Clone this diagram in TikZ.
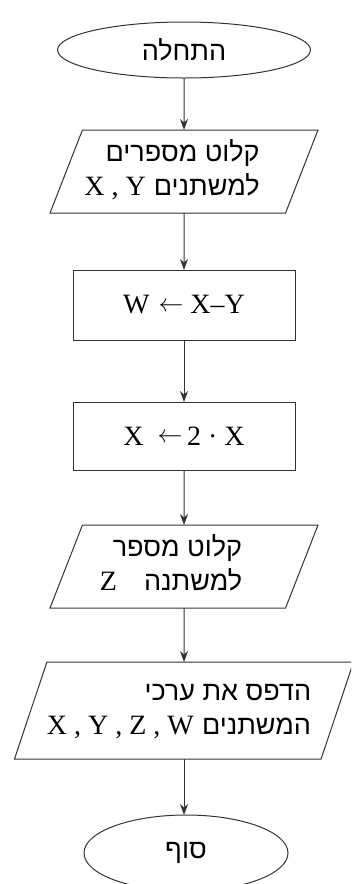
\documentclass[tikz,border=0pt]{standalone}
\usepackage{fontspec}
\usetikzlibrary{shapes.geometric,arrows.meta}
\TeXXeTstate=1
\newfontfamily\hebfont[Script=Hebrew]{Liberation Sans}
\newfontfamily\latfont{Liberation Serif}
\newcommand\he[1]{{\hebfont\fontsize{27}{34}\selectfont\beginR #1\endR}}
\newcommand\la[1]{{\latfont\fontsize{28}{34}\selectfont #1}}
\newcommand\larr{\raisebox{2.5pt}{\fontsize{24}{34}\selectfont$\leftarrow$}}
\newcommand\twolines[3]{\hbox{\begin{tabular}{@{}r@{}}#1\\#2\end{tabular}\kern#3}}
\definecolor{linec}{HTML}{333333}
\begin{document}
\begin{tikzpicture}[x=1pt,y=-1pt,
  every node/.style={inner sep=0pt, outer sep=0pt},
  shapebox/.style={draw=linec, line width=1pt, text=black, font=\fontsize{27}{34}\selectfont},
  term/.style={shapebox, ellipse},
  proc/.style={shapebox, rectangle, minimum width=222pt, minimum height=70pt},
  io/.style={shapebox, trapezium, trapezium left angle=64.5, trapezium right angle=115.5,
     trapezium stretches body},
  arr/.style={draw=linec, line width=1pt, -{Stealth[length=11pt,width=8pt]}}
]
\path[use as bounding box, clip] (0,0) rectangle (351,884);
\node[term, minimum width=253pt, minimum height=56pt] (start) at (184,50) {\he{התחלה}};
\node[io, minimum width=268pt, minimum height=83pt] (in1) at (184,171.5)
  {\twolines{\he{קלוט מספרים}}{\la{X , Y}\ \he{למשתנים}}{24pt}};
\node[proc] (p1) at (184,305) {\la{W\kern9pt\larr\ X–Y}};
\node[proc, minimum height=68pt] (p2) at (184,436) {\la{X \ \larr\,2 · X}};
\node[io, minimum width=268pt, minimum height=83pt] (in2) at (184,566.5)
  {\twolines{\he{קלוט מספר}}{\la{Z}\quad\he{למשתנה}}{26pt}};
\node[io, minimum width=334pt, minimum height=97pt] (out) at (184,710.5)
  {\twolines{\he{הדפס את ערכי}}{\la{X , Y , Z , W}\ \he{המשתנים}}{10pt}};
\node[term, minimum width=204pt, minimum height=76pt] (end) at (186,853) {\he{סוף}};
\draw[arr] (start.south) -- (in1.north);
\draw[arr] (in1.south) -- (p1.north);
\draw[arr] (p1.south) -- (p2.north);
\draw[arr] (p2.south) -- (in2.north);
\draw[arr] (in2.south) -- (out.north);
\draw[arr] (out.south) -- (out.south |- end.north);
\end{tikzpicture}
\end{document}
